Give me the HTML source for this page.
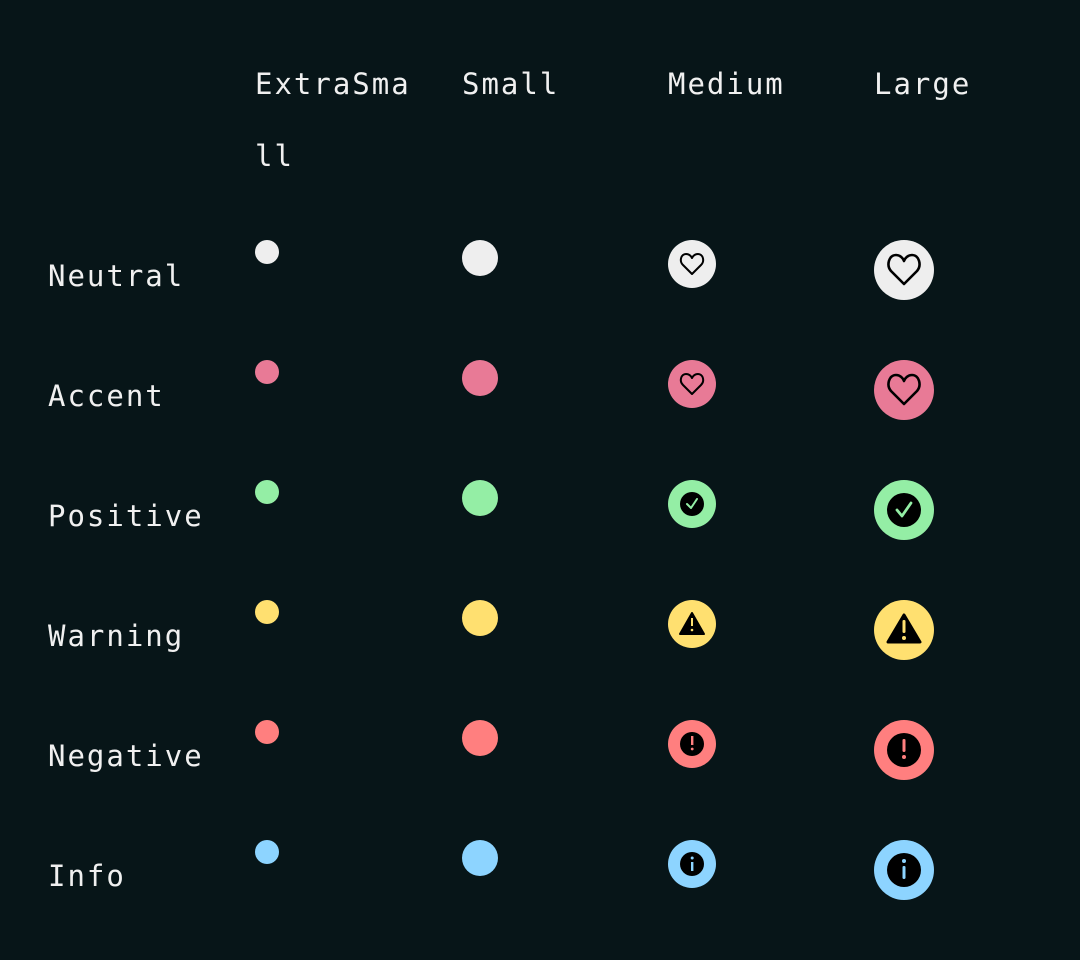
<!DOCTYPE html>
<html><head><meta charset="utf-8"><style>
html,body{margin:0;padding:0;background:#071518;}
svg{display:block}
text{font-family:"DejaVu Sans Mono","Liberation Mono",monospace;font-size:29px;fill:#f0f0f0;letter-spacing:2px}
</style></head><body>
<svg width="1080" height="960" viewBox="0 0 1080 960" xmlns="http://www.w3.org/2000/svg">
<rect width="1080" height="960" fill="#071518"/>
<text x="255" y="94">ExtraSma</text>
<text x="255" y="166">ll</text>
<text x="462" y="94">Small</text>
<text x="668" y="94">Medium</text>
<text x="874" y="94">Large</text>

<text x="48" y="286">Neutral</text>
<text x="48" y="406">Accent</text>
<text x="48" y="526">Positive</text>
<text x="48" y="646">Warning</text>
<text x="48" y="766">Negative</text>
<text x="48" y="886">Info</text>

<g>
<circle cx="267" cy="252" r="12" fill="#eeeeee"/><circle cx="480" cy="258" r="18" fill="#eeeeee"/>
<circle cx="267" cy="372" r="12" fill="#e87a96"/><circle cx="480" cy="378" r="18" fill="#e87a96"/>
<circle cx="267" cy="492" r="12" fill="#94eea5"/><circle cx="480" cy="498" r="18" fill="#94eea5"/>
<circle cx="267" cy="612" r="12" fill="#ffe070"/><circle cx="480" cy="618" r="18" fill="#ffe070"/>
<circle cx="267" cy="732" r="12" fill="#ff7f7f"/><circle cx="480" cy="738" r="18" fill="#ff7f7f"/>
<circle cx="267" cy="852" r="12" fill="#8dd4ff"/><circle cx="480" cy="858" r="18" fill="#8dd4ff"/>
</g>

<circle cx="692" cy="264" r="24" fill="#eeeeee"/>
<path d="M692,274 L683,265 C679,261 681,254 686,254 C689,254 691,256 692,258 C693,256 695,254 698,254 C703,254 705,261 701,265 Z" fill="none" stroke="#000" stroke-width="2" stroke-linejoin="round"/>
<circle cx="692" cy="384" r="24" fill="#e87a96"/>
<path d="M692,394 L683,385 C679,381 681,374 686,374 C689,374 691,376 692,378 C693,376 695,374 698,374 C703,374 705,381 701,385 Z" fill="none" stroke="#000" stroke-width="2" stroke-linejoin="round"/>
<circle cx="692" cy="504" r="24" fill="#94eea5"/>
<circle cx="692" cy="504" r="12" fill="#000"/>
<path d="M687,504 L691,508 L697,499" fill="none" stroke="#94eea5" stroke-width="2" stroke-linecap="round" stroke-linejoin="round"/>
<circle cx="692" cy="624" r="24" fill="#ffe070"/>
<path d="M692,613 L704,634 L680,634 Z" fill="#000" stroke="#000" stroke-width="2" stroke-linejoin="round"/>
<rect x="691" y="618" width="2" height="8" fill="#ffe070"/><circle cx="692" cy="630" r="1.3" fill="#ffe070"/>
<circle cx="692" cy="744" r="24" fill="#ff7f7f"/>
<circle cx="692" cy="744" r="12" fill="#000"/>
<rect x="691" y="736" width="2.4" height="9" fill="#ff7f7f"/><circle cx="692.2" cy="749" r="1.4" fill="#ff7f7f"/>
<circle cx="692" cy="864" r="24" fill="#8dd4ff"/>
<circle cx="692" cy="864" r="12" fill="#000"/>
<rect x="691" y="862" width="2.4" height="9" fill="#8dd4ff"/><circle cx="692.2" cy="858" r="1.5" fill="#8dd4ff"/>

<circle cx="904" cy="270" r="30" fill="#eeeeee"/>
<path d="M904,284 L891,271 C886,265 889,255 896,255 C900,255 903,258 904,261 C905,258 908,255 912,255 C919,255 922,265 917,271 Z" fill="none" stroke="#000" stroke-width="2.6" stroke-linejoin="round"/>
<circle cx="904" cy="390" r="30" fill="#e87a96"/>
<path d="M904,404 L891,391 C886,385 889,375 896,375 C900,375 903,378 904,381 C905,378 908,375 912,375 C919,375 922,385 917,391 Z" fill="none" stroke="#000" stroke-width="2.6" stroke-linejoin="round"/>
<circle cx="904" cy="510" r="30" fill="#94eea5"/>
<circle cx="904" cy="510" r="17" fill="#000"/>
<path d="M897,510 L902,516 L911,503" fill="none" stroke="#94eea5" stroke-width="2.8" stroke-linecap="round" stroke-linejoin="round"/>
<circle cx="904" cy="630" r="30" fill="#ffe070"/>
<path d="M904,615 L920,642 L888,642 Z" fill="#000" stroke="#000" stroke-width="3" stroke-linejoin="round"/>
<rect x="902.5" y="620" width="3" height="13" rx="1.2" fill="#ffe070"/><circle cx="904" cy="638" r="2" fill="#ffe070"/>
<circle cx="904" cy="750" r="30" fill="#ff7f7f"/>
<circle cx="904" cy="750" r="17" fill="#000"/>
<rect x="902.5" y="739" width="3" height="13" rx="1.2" fill="#ff7f7f"/><circle cx="904" cy="757" r="2" fill="#ff7f7f"/>
<circle cx="904" cy="870" r="30" fill="#8dd4ff"/>
<circle cx="904" cy="870" r="17" fill="#000"/>
<rect x="902.5" y="866" width="3" height="13" rx="1.2" fill="#8dd4ff"/><circle cx="904" cy="861" r="2" fill="#8dd4ff"/>
</svg>
</body></html>
